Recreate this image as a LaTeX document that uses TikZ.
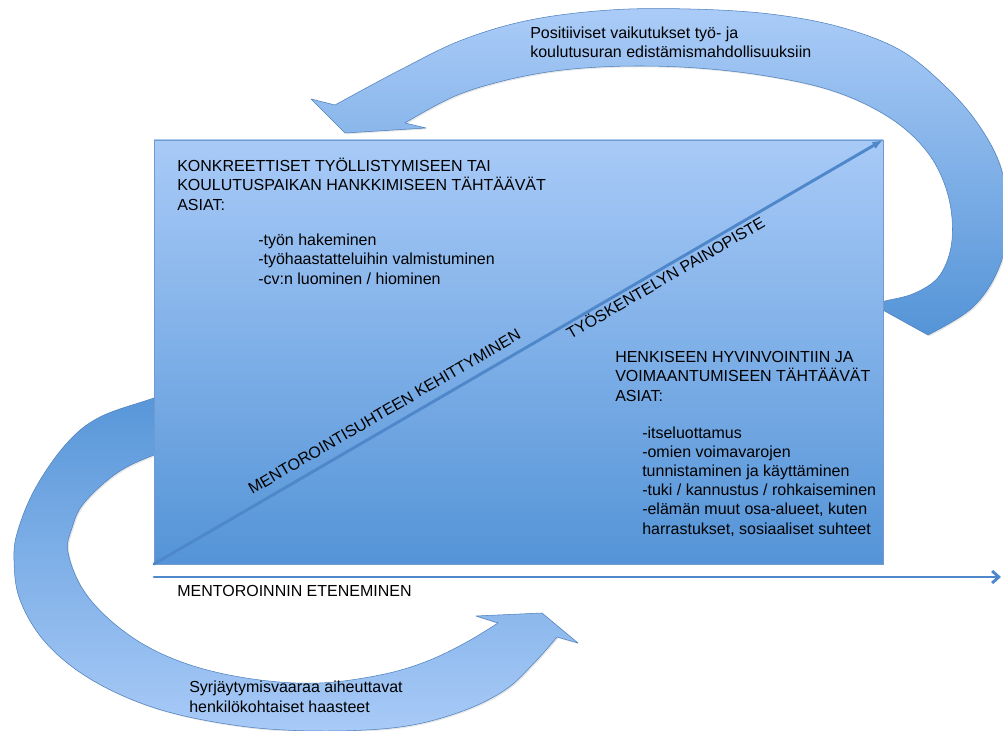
\documentclass[tikz,border=0pt]{standalone}
\usepackage{fontspec}
\setmainfont{Liberation Sans}
\usetikzlibrary{arrows.meta,shadows}
\definecolor{paleblue}{HTML}{A8CAF7}
\definecolor{deepblue}{HTML}{5494D7}
\definecolor{edgeblue}{HTML}{4F81BD}
\definecolor{lineblue}{HTML}{4F88CA}
\begin{document}
\begin{tikzpicture}[x=0.75pt,y=-0.75pt,line cap=round,line join=round,
  band/.style={draw=edgeblue,line width=0.4pt,
    drop shadow={shadow xshift=1pt,shadow yshift=-1pt,opacity=0.2}},
  txt/.style={anchor=base west,align=left,inner sep=0pt,
    font=\fontsize{12}{14.3}\selectfont},
  diaglbl/.style={sloped,inner sep=0pt,text=black,font=\fontsize{12}{14.3}\selectfont}]
  \useasboundingbox (0,0) rectangle (1003,731);
  % upper loop: from the panel back to the start
  \path[band,top color=paleblue!97!white,bottom color=deepblue]
    plot[smooth,tension=0.6] coordinates {(928,335) (972,308) (998,270) (1009,222)
      (1001,168) (978,124) (945,86) (900,50) (840,27) (770,14) (690,9) (610,10)
      (530,20) (462,40) (400,70) (335,105)}
    -- (311,99) -- (345,133) -- (426,128) --
    plot[smooth,tension=0.6] coordinates {(405,123) (460,94) (530,75) (600,67)
      (680,67) (760,75) (833,91) (890,118) (928,153) (948,195) (952,240)
      (940,275) (915,293) (885,301) (872,304)}
    -- cycle;
  % lower loop
  \path[band,top color=deepblue,bottom color=paleblue]
    plot[smooth,tension=0.6] coordinates {(200,382) (154,398) (100,417) (67,443)
      (36,487) (18,530) (14,560) (20,600) (46,643) (92,680) (158,709) (240,726)
      (320,731) (400,727) (460,712) (505,690) (535,662) (557,637)}
    -- (578,643) -- (542,613) -- (476,616) --
    plot[smooth,tension=0.6] coordinates {(498,623) (465,643) (425,662) (380,675)
      (320,683) (260,680) (200,668) (150,648) (110,620) (82,588) (68,552)
      (72,528) (84,503) (117,473) (154,455) (200,440)}
    -- cycle;
  % panel
  \coordinate (sw) at (154,564);
  \coordinate (ne) at (883,140);
  \draw[edgeblue!80,line width=0.5pt,top color=paleblue,bottom color=deepblue,
    drop shadow={shadow xshift=1pt,shadow yshift=-1pt,opacity=0.2}] (sw) rectangle (ne);
  \draw[lineblue,line width=2.2pt,-{Latex[length=8pt,width=6pt]}] (sw) -- (ne)
    node[diaglbl,pos=0.327,above=6.5pt] (mentlbl) {MENTOROINTISUHTEEN KEHITTYMINEN}
    node[diaglbl,pos=0.695,below=0.5pt] (painlbl) {TYÖSKENTELYN PAINOPISTE};
  % time axis
  \coordinate (axstart) at (154,577);
  \coordinate (axend) at (1001,577);
  \draw[lineblue,line width=2.2pt,-{Straight Barb[length=5pt,width=9pt]}] (axstart) -- (axend);
  \node[txt] (eten) at (177,596) {MENTOROINNIN ETENEMINEN};
  % texts (anchored at the baseline of the last line)
  \node[txt] (konk) at (177,210) {KONKREETTISET TYÖLLISTYMISEEN TAI\\
    KOULUTUSPAIKAN HANKKIMISEEN TÄHTÄÄVÄT\\ASIAT:};
  \node[txt] (konklist) at (258,284) {-työn hakeminen\\
    -työhaastatteluihin valmistuminen\\-cv:n luominen / hiominen};
  \node[txt] (henk) at (615,401) {HENKISEEN HYVINVOINTIIN JA\\
    VOIMAANTUMISEEN TÄHTÄÄVÄT\\ASIAT:};
  \node[txt] (henklist) at (642,534) {-itseluottamus\\-omien voimavarojen\\
    tunnistaminen ja käyttäminen\\-tuki / kannustus / rohkaiseminen\\
    -elämän muut osa-alueet, kuten\\harrastukset, sosiaaliset suhteet};
  \node[txt] (posit) at (530,58) {Positiiviset vaikutukset työ- ja\\
    koulutusuran edistämismahdollisuuksiin};
  \node[txt] (syrj) at (189,712) {Syrjäytymisvaaraa aiheuttavat\\
    henkilökohtaiset haasteet};
\end{tikzpicture}
\end{document}
